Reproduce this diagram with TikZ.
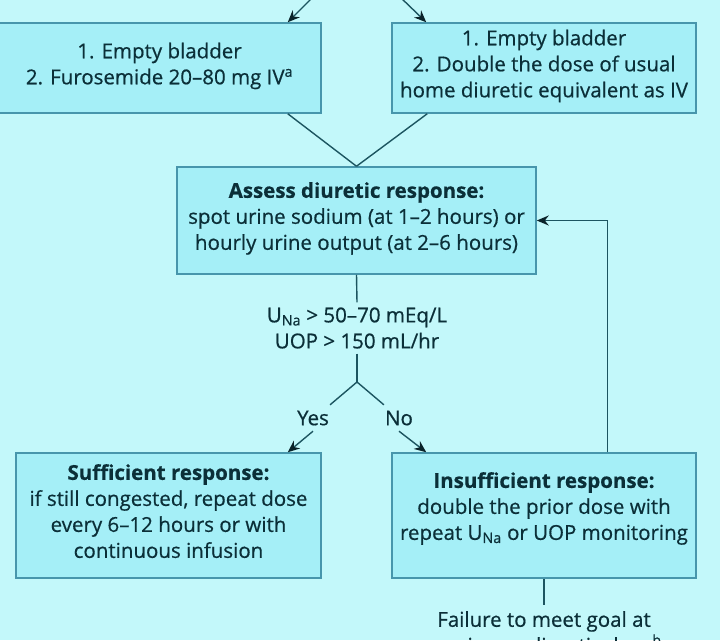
\documentclass[tikz,border=0pt]{standalone}
\usepackage{fontspec}
\setmainfont{Open Sans}[RawFeature={embolden=0.6}]
\usetikzlibrary{arrows.meta,calc}
\definecolor{fondoC}{HTML}{C3F8FA}
\definecolor{cajaC}{HTML}{A5EFF7}
\definecolor{bordeC}{HTML}{4796AC}
\definecolor{lineaC}{HTML}{1C5560}
\definecolor{textoC}{HTML}{0B2F38}
\definecolor{puntaC}{HTML}{0A2329}
\newcommand{\una}{U\textsubscript{Na}}

\begin{document}
\begin{tikzpicture}[x=1pt,y=-1pt,
                    font=\fontsize{20.5}{26}\selectfont,text=textoC,
                    caja/.style={draw=bordeC,line width=1.5pt,fill=cajaC,
                                 align=center,inner sep=0pt,text depth=9pt},
                    linea/.style={lineaC,line width=1.4pt},
                    flecha/.style={linea,-{Stealth[length=12pt,width=10pt,color=puntaC]}}]
  \fill[fondoC] (0,0) rectangle (720,640);
  \useasboundingbox (0,0) rectangle (720,640);
  \node[caja,minimum width=323pt,minimum height=90pt] (vacioA) at (159.5,68)
    {1. Empty bladder\\2. Furosemide 20--80 mg IV\textsuperscript{a}};
  \node[caja,minimum width=304pt,minimum height=90pt] (vacioB) at (544,68)
    {1. Empty bladder\\2. Double the dose of usual\\home diuretic equivalent as IV};
  \node[caja,minimum width=359pt,minimum height=107pt] (evalua) at (356.5,220.5)
    {\textbf{Assess diuretic response:}\\spot urine sodium (at 1--2 hours) or\\
     hourly urine output (at 2--6 hours)};
  \node[align=center,inner sep=0pt,minimum height=51pt] (criterio) at (357,328)
    {\una{} > 50--70 mEq/L\\UOP > 150 mL/hr};
  \coordinate (bifurca) at (357,382);
  \node[inner xsep=1pt,minimum height=26pt] (si) at (313,418) {Yes};
  \node[inner xsep=1pt,minimum height=26pt] (no) at (399,418) {No};
  \node[caja,minimum width=305pt,minimum height=125pt] (suficiente) at (168.5,515.5)
    {\textbf{Sufficient response:}\\if still congested, repeat dose\\
     every 6--12 hours or with\\continuous infusion};
  \node[caja,minimum width=304pt,minimum height=125pt,text depth=19pt] (insuficiente) at (544,515.5)
    {\textbf{Insufficient response:}\\double the prior dose with\\
     repeat \una{} or UOP monitoring};
  \node[align=center,anchor=north,inner xsep=2pt,inner ysep=6pt] (fallo) at (544,605)
    {Failure to meet goal at\\maximum diuretic dose\textsuperscript{b}};
  \coordinate (entraA) at (314,-4);
  \coordinate (entraB) at (399,-4);
  \draw[flecha] (entraA) -- ($(vacioA.north east)+(-34,0)$);
  \draw[flecha] (entraB) -- ($(vacioB.north west)+(35,0)$);
  \draw[linea] ($(vacioA.south east)+(-34,0)$) -- (evalua.north);
  \draw[linea] ($(vacioB.south west)+(36,0)$) -- (evalua.north);
  \draw[linea] (evalua.south) -- (criterio.north);
  \draw[linea] (criterio.south) -- (bifurca);
  \draw[linea] (bifurca) -- (si.north east);
  \draw[linea] (bifurca) -- (no.north west);
  \draw[flecha] (si.south) -- ($(suficiente.north east)+(-34,0)$);
  \draw[flecha] (no.south) -- ($(insuficiente.north west)+(35,0)$);
  \draw[flecha] ($(insuficiente.north west)+(216,0)$) |- (evalua.east);
  \draw[linea] (insuficiente.south) -- (fallo.north);
\end{tikzpicture}
\end{document}
